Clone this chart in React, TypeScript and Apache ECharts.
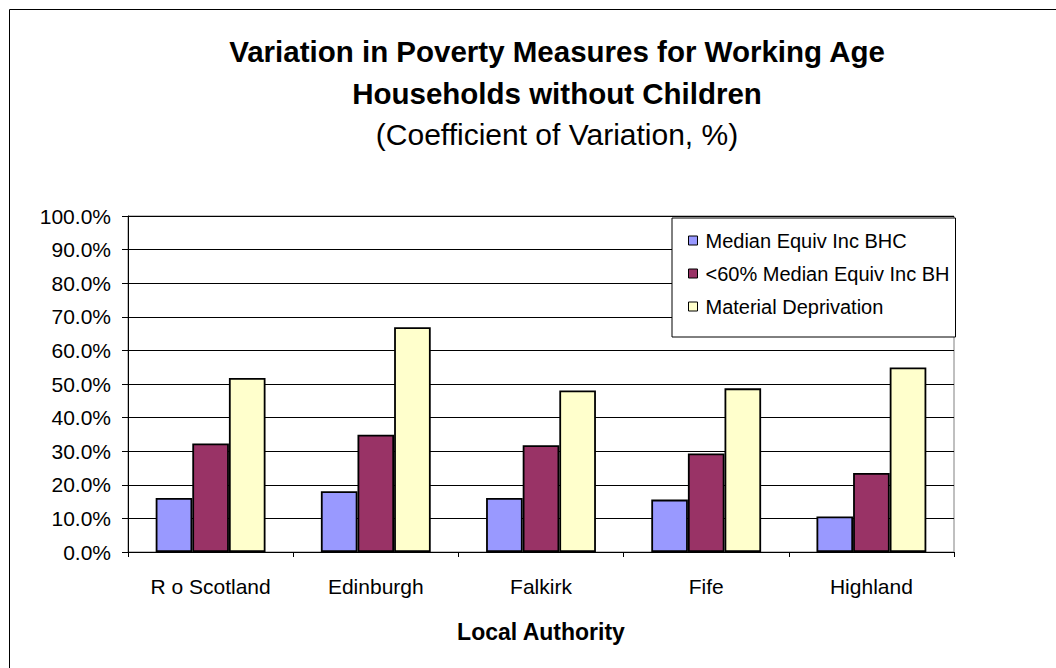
import React, { useEffect, useRef } from "react";
import * as echarts from "echarts";

const categories = ["R o Scotland", "Edinburgh", "Falkirk", "Fife", "Highland"];
const seriesNames = [
  "Median Equiv Inc BHC",
  "<60% Median Equiv Inc BHC",
  "Material Deprivation",
];
const medianEquivInc = [16.1, 18.1, 16.1, 15.6, 10.6];
const below60Median = [32.3, 34.9, 31.8, 29.3, 23.5];
const materialDeprivation = [51.8, 66.9, 48.1, 48.7, 54.9];
const seriesColors = ["#9999FF", "#993366", "#FFFFCC"];
const yTicks = { min: 0, max: 100, interval: 10 };

const FONT = "'Liberation Sans', Arial, sans-serif";

export default function App() {
  const ref = useRef<HTMLDivElement>(null);

  useEffect(() => {
    if (!ref.current) return;
    const chart = echarts.init(ref.current, undefined, { renderer: "svg" });
    const values = [medianEquivInc, below60Median, materialDeprivation];

    chart.setOption({
      animation: false,
      backgroundColor: "#fff",
      textStyle: { fontFamily: FONT, color: "#000" },
      title: {
        text: "Variation in Poverty Measures for Working Age\nHouseholds without Children",
        subtext: "(Coefficient of Variation, %)",
        left: 557,
        top: 31,
        textAlign: "center",
        padding: 0,
        itemGap: 3,
        textStyle: {
          fontFamily: FONT,
          fontSize: 29.5,
          fontWeight: "bold",
          color: "#000",
          lineHeight: 41.5,
        },
        subtextStyle: {
          fontFamily: FONT,
          fontSize: 30,
          color: "#000",
          lineHeight: 34,
        },
      },
      legend: {
        orient: "vertical",
        left: 672,
        top: 218,
        padding: [12.5, 0, 20.5, 16],
        itemGap: 13,
        itemWidth: 9,
        itemHeight: 9,
        icon: "rect",
        backgroundColor: "#fff",
        borderColor: "#000",
        borderWidth: 1,
        itemStyle: { borderColor: "#000", borderWidth: 1 },
        textStyle: {
          fontFamily: FONT,
          fontSize: 20,
          lineHeight: 20,
          color: "#000",
          width: 250,
          overflow: "truncate",
          ellipsis: "",
          padding: [0, 0, 0, 3],
        },
        data: seriesNames,
      },
      grid: {
        left: 128,
        top: 216,
        width: 826,
        height: 336,
        show: true,
        borderColor: "#808080",
        borderWidth: 1,
        backgroundColor: "transparent",
      },
      xAxis: {
        type: "category",
        data: categories,
        name: "Local Authority",
        nameLocation: "middle",
        nameGap: 68.5,
        nameTextStyle: {
          fontFamily: FONT,
          fontSize: 23,
          fontWeight: "bold",
          color: "#000",
        },
        axisLine: { lineStyle: { color: "#000", width: 1 } },
        axisTick: {
          show: true,
          alignWithLabel: false,
          length: 5,
          lineStyle: { color: "#000" },
        },
        axisLabel: {
          interval: 0,
          margin: 24,
          fontFamily: FONT,
          fontSize: 21,
          color: "#000",
        },
        splitLine: { show: false },
      },
      yAxis: {
        type: "value",
        min: yTicks.min,
        max: yTicks.max,
        interval: yTicks.interval,
        axisLine: { show: true, lineStyle: { color: "#000", width: 1 } },
        axisTick: { show: true, length: 6, lineStyle: { color: "#000" } },
        axisLabel: {
          margin: 17,
          fontFamily: FONT,
          fontSize: 21,
          color: "#000",
          formatter: (v: number) => `${v.toFixed(1)}%`,
        },
        splitLine: { show: true, lineStyle: { color: "#000", width: 1 } },
      },
      graphic: [
        {
          type: "rect",
          silent: true,
          z: -1,
          shape: { x: 9.5, y: 9.5, width: 1100, height: 700 },
          style: { fill: "none", stroke: "#000", lineWidth: 1 },
        },
      ],
      series: seriesNames.map((name, i) => ({
        name,
        type: "bar",
        data: values[i],
        barGap: "0%",
        barCategoryGap: "33.5%",
        itemStyle: {
          color: seriesColors[i],
          borderColor: "#000",
          borderWidth: 1.8,
        },
      })),
    });

    return () => chart.dispose();
  }, []);

  return (
    <div
      ref={ref}
      style={{
        position: "fixed",
        left: 0,
        top: 0,
        width: 1056,
        height: 668,
        background: "#fff",
      }}
    />
  );
}
